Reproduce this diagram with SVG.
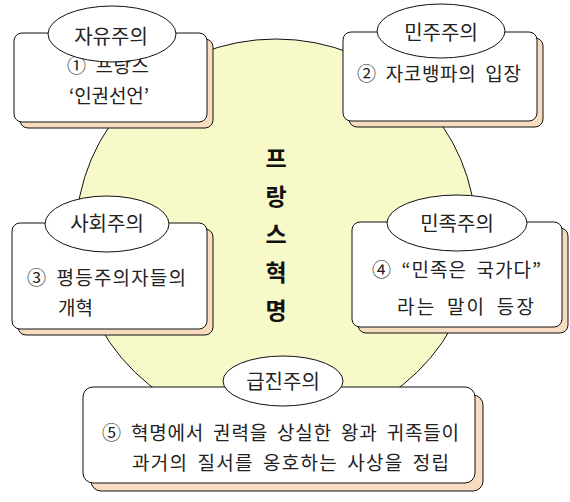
<svg xmlns="http://www.w3.org/2000/svg" width="570" height="502" viewBox="0 0 570 502">
<style>
.bg{fill:#F7F9C8;stroke:#111;stroke-width:1}
.sh{fill:#F8DCC0;stroke:#111;stroke-width:1}
.bx{fill:#fff;stroke:#111;stroke-width:1}
.el{fill:#fff;stroke:#111;stroke-width:1}
.lb{font-family:"Noto Sans CJK KR","Noto Sans",sans-serif;font-size:20px;fill:#222;text-anchor:middle}
.tx{font-family:"Noto Sans CJK KR","Noto Sans",sans-serif;font-size:19px;fill:#222;word-spacing:4px}
.tt{font-family:"Noto Sans CJK KR","Noto Sans",sans-serif;font-size:23px;font-weight:bold;fill:#111;text-anchor:middle}
</style>
<g id="center">
<ellipse class="bg" cx="276" cy="234" rx="200" ry="195"/>
<text class="tt" x="276" y="167">프</text>
<text class="tt" x="276" y="205">랑</text>
<text class="tt" x="276" y="243">스</text>
<text class="tt" x="276" y="281">혁</text>
<text class="tt" x="276" y="319">명</text>
</g>
<g id="connectors"></g>
<g id="liberalism">
<rect class="sh" x="20" y="39" width="193" height="89" rx="8"/>
<rect class="bx" x="14" y="33" width="193" height="89" rx="8"/>
<text class="tx" x="67" y="73" textLength="82" lengthAdjust="spacing">① 프랑스</text>
<text class="tx" x="69" y="103" textLength="80" lengthAdjust="spacing">‘인권선언’</text>
<ellipse class="el" cx="112" cy="34" rx="64" ry="28"/>
<text class="lb" x="111" y="44">자유주의</text>
</g>
<g id="democracy">
<rect class="sh" x="349" y="38" width="194" height="89" rx="8"/>
<rect class="bx" x="343" y="32" width="194" height="89" rx="8"/>
<text class="tx" x="357" y="81" textLength="164" lengthAdjust="spacing">② 자코뱅파의 입장</text>
<ellipse class="el" cx="441" cy="31" rx="64" ry="27"/>
<text class="lb" x="441" y="40">민주주의</text>
</g>
<g id="socialism">
<rect class="sh" x="18" y="229" width="195" height="106" rx="8"/>
<rect class="bx" x="12" y="223" width="195" height="106" rx="8"/>
<text class="tx" x="27" y="285" textLength="159" lengthAdjust="spacing">③ 평등주의자들의</text>
<text class="tx" x="58" y="315">개혁</text>
<ellipse class="el" cx="107" cy="224" rx="62" ry="28"/>
<text class="lb" x="107" y="231">사회주의</text>
</g>
<g id="nationalism">
<rect class="sh" x="358" y="228" width="210" height="105" rx="8"/>
<rect class="bx" x="352" y="222" width="210" height="105" rx="8"/>
<text class="tx" x="372" y="277" textLength="169" lengthAdjust="spacing">④ “민족은 국가다”</text>
<text class="tx" x="397" y="314" textLength="137" lengthAdjust="spacing">라는 말이 등장</text>
<ellipse class="el" cx="457" cy="223" rx="70" ry="28"/>
<text class="lb" x="457" y="231">민족주의</text>
</g>
<g id="radicalism">
<rect class="sh" x="91" y="395" width="392" height="96" rx="10"/>
<rect class="bx" x="83" y="387" width="392" height="96" rx="10"/>
<text class="tx" x="102" y="440" textLength="357" lengthAdjust="spacing">⑤ 혁명에서 권력을 상실한 왕과 귀족들이</text>
<text class="tx" x="132" y="470" textLength="317" lengthAdjust="spacing">과거의 질서를 옹호하는 사상을 정립</text>
<ellipse class="el" cx="283" cy="381" rx="60" ry="25"/>
<text class="lb" x="283" y="389">급진주의</text>
</g>
</svg>
